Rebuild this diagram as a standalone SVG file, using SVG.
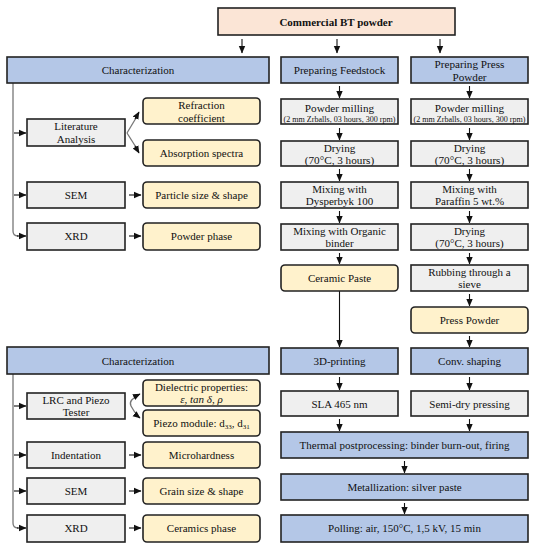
<svg xmlns="http://www.w3.org/2000/svg" width="533" height="550" viewBox="0 0 533 550">
<defs>
<marker id="ah" markerUnits="userSpaceOnUse" markerWidth="8" markerHeight="8" viewBox="0 0 8 8" refX="7" refY="4" orient="auto">
<path d="M0,0.8 L7.5,4 L0,7.2 Z" fill="#111"/>
</marker>
<style>
rect{stroke:#222;stroke-width:1.6}
.blue{fill:#b4c7e7}
.gray{fill:#efefef}
.yel{fill:#fff2cc}
.peach{fill:#fbe5d6}
text{font-family:"Liberation Serif","Times New Roman",serif;font-size:11px;fill:#111;text-anchor:middle}
.big{font-size:11.2px}
.sm{font-size:7.5px}
.b{font-weight:bold}
.c path,.c line{stroke:#111;stroke-width:1.1;fill:none}
.c .g{stroke:#777;stroke-width:1.3}
</style>
</defs>
<g class="c" id="connectors">
<line x1="242" y1="39" x2="242" y2="53" marker-end="url(#ah)"/>
<line x1="337" y1="39" x2="337" y2="53" marker-end="url(#ah)"/>
<line x1="440" y1="39" x2="440" y2="53" marker-end="url(#ah)"/>
<path class="g" d="M13,83 V231 Q13,236 18,236"/>
<line x1="14" y1="133" x2="26" y2="133" marker-end="url(#ah)"/>
<line x1="14" y1="195" x2="26" y2="195" marker-end="url(#ah)"/>
<line x1="17" y1="236" x2="26" y2="236" marker-end="url(#ah)"/>
<path class="g" d="M127,133 L139,113"/>
<path class="g" d="M127,133 L139,152"/>
<line x1="135" y1="119" x2="139" y2="112" marker-end="url(#ah)"/>
<line x1="135" y1="146" x2="139" y2="153" marker-end="url(#ah)"/>
<line x1="129" y1="195" x2="141" y2="195" marker-end="url(#ah)"/>
<line x1="129" y1="236" x2="141" y2="236" marker-end="url(#ah)"/>
<path class="g" d="M13,374 V523 Q13,528 18,528"/>
<line x1="14" y1="406" x2="26" y2="406" marker-end="url(#ah)"/>
<line x1="14" y1="455" x2="26" y2="455" marker-end="url(#ah)"/>
<line x1="14" y1="491" x2="26" y2="491" marker-end="url(#ah)"/>
<line x1="17" y1="528" x2="26" y2="528" marker-end="url(#ah)"/>
<path class="g" d="M139,395 Q128,400 131,406 Q134,412 139,417"/>
<line x1="134" y1="397" x2="140" y2="394" marker-end="url(#ah)"/>
<line x1="135" y1="414" x2="140" y2="418" marker-end="url(#ah)"/>
<line x1="129" y1="455" x2="141" y2="455" marker-end="url(#ah)"/>
<line x1="129" y1="491" x2="141" y2="491" marker-end="url(#ah)"/>
<line x1="129" y1="528" x2="141" y2="528" marker-end="url(#ah)"/>
<line x1="339.5" y1="86" x2="339.5" y2="98" marker-end="url(#ah)"/>
<line x1="339.5" y1="128" x2="339.5" y2="140" marker-end="url(#ah)"/>
<line x1="339.5" y1="169" x2="339.5" y2="181" marker-end="url(#ah)"/>
<line x1="339.5" y1="211" x2="339.5" y2="223" marker-end="url(#ah)"/>
<line x1="339.5" y1="253" x2="339.5" y2="264" marker-end="url(#ah)"/>
<line x1="339.5" y1="291" x2="339.5" y2="347" marker-end="url(#ah)" stroke="#666"/>
<line x1="339.5" y1="377" x2="339.5" y2="390" marker-end="url(#ah)"/>
<line x1="339.5" y1="419" x2="339.5" y2="431" marker-end="url(#ah)"/>
<line x1="469.5" y1="86" x2="469.5" y2="98" marker-end="url(#ah)"/>
<line x1="469.5" y1="128" x2="469.5" y2="140" marker-end="url(#ah)"/>
<line x1="469.5" y1="169" x2="469.5" y2="181" marker-end="url(#ah)"/>
<line x1="469.5" y1="211" x2="469.5" y2="223" marker-end="url(#ah)"/>
<line x1="469.5" y1="253" x2="469.5" y2="264" marker-end="url(#ah)"/>
<line x1="469.5" y1="294" x2="469.5" y2="306" marker-end="url(#ah)"/>
<line x1="469.5" y1="336" x2="469.5" y2="347" marker-end="url(#ah)"/>
<line x1="469.5" y1="377" x2="469.5" y2="390" marker-end="url(#ah)"/>
<line x1="469.5" y1="419" x2="469.5" y2="431" marker-end="url(#ah)"/>
<line x1="404.5" y1="461" x2="404.5" y2="473" marker-end="url(#ah)"/>
<line x1="404.5" y1="503" x2="404.5" y2="514" marker-end="url(#ah)"/>
</g>
<g id="n-bt"><rect class="peach" x="218" y="8" width="237" height="27"/><text class="b" x="336" y="25.5">Commercial BT powder</text></g>
<g id="n-char1"><rect class="blue" x="7" y="57" width="262" height="26"/><text x="138" y="74">Characterization</text></g>
<g id="n-feed"><rect class="blue" x="281" y="57" width="117" height="26"/><text class="big" x="339.5" y="74">Preparing Feedstock</text></g>
<g id="n-press"><rect class="blue" x="411" y="57" width="117" height="26"/><text class="big" x="469.5" y="68">Preparing Press</text><text class="big" x="469.5" y="81">Powder</text></g>
<g id="n-lit"><rect class="gray" x="27" y="119" width="98" height="27"/><text x="76" y="130">Literature</text><text x="76" y="143">Analysis</text></g>
<g id="n-refr"><rect class="yel" x="143" y="98" width="117" height="26" rx="4"/><text x="201.5" y="109">Refraction</text><text x="201.5" y="121.5">coefficient</text></g>
<g id="n-abs"><rect class="yel" x="143" y="140" width="117" height="26" rx="4"/><text x="201.5" y="157">Absorption spectra</text></g>
<g id="n-sem1"><rect class="gray" x="27" y="182" width="98" height="26"/><text x="76" y="199">SEM</text></g>
<g id="n-part"><rect class="yel" x="143" y="182" width="117" height="26" rx="4"/><text x="201.5" y="199">Particle size &amp; shape</text></g>
<g id="n-xrd1"><rect class="gray" x="27" y="223" width="98" height="27"/><text x="76" y="240">XRD</text></g>
<g id="n-pphase"><rect class="yel" x="143" y="223" width="117" height="27" rx="4"/><text x="201.5" y="240">Powder phase</text></g>
<g id="n-mill1"><rect class="gray" x="281" y="99" width="117" height="25"/><text class="big" x="339.5" y="112">Powder milling</text><text class="sm" x="339.5" y="121.5" textLength="112" lengthAdjust="spacingAndGlyphs">(2 mm Zrballs, 03 hours, 300 rpm)</text></g>
<g id="n-mill2"><rect class="gray" x="411" y="99" width="117" height="25"/><text class="big" x="469.5" y="112">Powder milling</text><text class="sm" x="469.5" y="121.5" textLength="112" lengthAdjust="spacingAndGlyphs">(2 mm Zrballs, 03 hours, 300 rpm)</text></g>
<g id="n-dry1"><rect class="gray" x="281" y="141" width="117" height="25"/><text class="big" x="339.5" y="151.5">Drying</text><text class="big" x="339.5" y="163.5">(70°C, 3 hours)</text></g>
<g id="n-dry2"><rect class="gray" x="411" y="141" width="117" height="25"/><text class="big" x="469.5" y="151.5">Drying</text><text class="big" x="469.5" y="163.5">(70°C, 3 hours)</text></g>
<g id="n-mixd"><rect class="gray" x="281" y="182" width="117" height="26"/><text x="339.5" y="193">Mixing with</text><text x="339.5" y="205">Dysperbyk  100</text></g>
<g id="n-mixp"><rect class="gray" x="411" y="182" width="117" height="26"/><text x="469.5" y="193">Mixing with</text><text x="469.5" y="205">Paraffin 5 wt.%</text></g>
<g id="n-mixo"><rect class="gray" x="281" y="224" width="117" height="26"/><text x="339.5" y="235">Mixing with Organic</text><text x="339.5" y="247">binder</text></g>
<g id="n-dry3"><rect class="gray" x="411" y="224" width="117" height="26"/><text x="469.5" y="235">Drying</text><text x="469.5" y="247">(70°C, 3 hours)</text></g>
<g id="n-paste"><rect class="yel" x="281" y="265" width="117" height="26" rx="4"/><text x="339.5" y="282">Ceramic Paste</text></g>
<g id="n-rub"><rect class="gray" x="411" y="265" width="117" height="26"/><text x="469.5" y="276">Rubbing through a</text><text x="469.5" y="288">sieve</text></g>
<g id="n-ppow"><rect class="yel" x="411" y="307" width="117" height="26" rx="4"/><text x="469.5" y="324">Press Powder</text></g>
<g id="n-char2"><rect class="blue" x="7" y="347" width="262" height="27"/><text x="138" y="364.5">Characterization</text></g>
<g id="n-3d"><rect class="blue" x="281" y="348" width="117" height="26"/><text x="339.5" y="365">3D-printing</text></g>
<g id="n-conv"><rect class="blue" x="411" y="348" width="117" height="26"/><text x="469.5" y="365">Conv. shaping</text></g>
<g id="n-lrc"><rect class="gray" x="27" y="393" width="98" height="26"/><text x="76" y="404">LRC and Piezo</text><text x="76" y="416">Tester</text></g>
<g id="n-diel"><rect class="yel" x="143" y="380" width="117" height="26" rx="4"/><text x="201.5" y="391">Dielectric properties:</text><text x="201.5" y="403" font-style="italic">ε, tan δ, ρ</text></g>
<g id="n-piezo"><rect class="yel" x="143" y="410" width="117" height="26" rx="4"/><text x="201.5" y="427">Piezo module: d<tspan font-size="7" dy="2">33</tspan><tspan dy="-2">, d</tspan><tspan font-size="7" dy="2">31</tspan></text></g>
<g id="n-ind"><rect class="gray" x="27" y="442" width="98" height="26"/><text x="76" y="459">Indentation</text></g>
<g id="n-micro"><rect class="yel" x="143" y="442" width="117" height="26" rx="4"/><text x="201.5" y="459">Microhardness</text></g>
<g id="n-sem2"><rect class="gray" x="27" y="478" width="98" height="26"/><text x="76" y="495">SEM</text></g>
<g id="n-grain"><rect class="yel" x="143" y="478" width="117" height="26" rx="4"/><text x="201.5" y="495">Grain size &amp; shape</text></g>
<g id="n-xrd2"><rect class="gray" x="27" y="515" width="98" height="27"/><text x="76" y="532">XRD</text></g>
<g id="n-cphase"><rect class="yel" x="143" y="515" width="117" height="27" rx="4"/><text x="201.5" y="532">Ceramics phase</text></g>
<g id="n-sla"><rect class="gray" x="281" y="391" width="117" height="25"/><text x="339.5" y="407.5">SLA 465 nm</text></g>
<g id="n-semi"><rect class="gray" x="411" y="391" width="117" height="25"/><text x="469.5" y="407.5">Semi-dry pressing</text></g>
<g id="n-therm"><rect class="blue" x="281" y="432" width="247" height="26"/><text x="404.5" y="449">Thermal postprocessing: binder burn-out, firing</text></g>
<g id="n-metal"><rect class="blue" x="281" y="474" width="247" height="26"/><text x="404.5" y="491">Metallization: silver paste</text></g>
<g id="n-poll"><rect class="blue" x="281" y="515" width="247" height="27"/><text x="404.5" y="532">Polling: air, 150°C, 1,5 kV, 15 min</text></g>
</svg>
